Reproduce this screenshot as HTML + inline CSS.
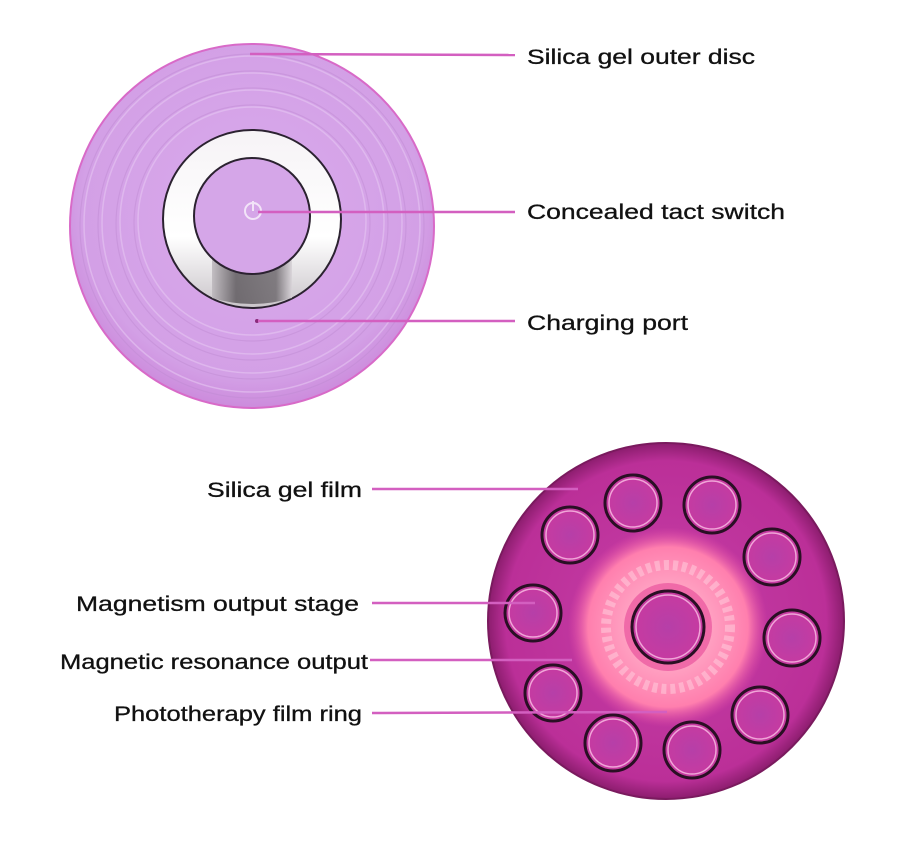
<!DOCTYPE html>
<html><head><style>body{margin:0;background:#fff}svg{display:block}</style></head>
<body>
<svg width="900" height="858" viewBox="0 0 900 858" xmlns="http://www.w3.org/2000/svg" font-family="Liberation Sans, Arial, sans-serif">
<defs>
<radialGradient id="top" cx="50%" cy="45%" r="55%">
<stop offset="0" stop-color="#d9aaec"/><stop offset="0.85" stop-color="#d3a0e6"/><stop offset="1" stop-color="#cc8bdc"/>
</radialGradient>
<radialGradient id="bot" cx="50%" cy="50%" r="50%">
<stop offset="0" stop-color="#c63fa7"/><stop offset="0.9" stop-color="#bb2f98"/><stop offset="1" stop-color="#8c1d6e"/>
</radialGradient>
<radialGradient id="glow" cx="50%" cy="50%" r="50%">
<stop offset="0.45" stop-color="#ff9ec0"/><stop offset="0.8" stop-color="#ff7fae"/><stop offset="1" stop-color="#e64ea7" stop-opacity="0"/>
</radialGradient>
<radialGradient id="dot" cx="50%" cy="50%" r="50%">
<stop offset="0" stop-color="#b63fa8"/><stop offset="1" stop-color="#c83aa0"/>
</radialGradient>
<linearGradient id="metal" x1="0" y1="0" x2="0" y2="1">
<stop offset="0" stop-color="#f6f3f6"/><stop offset="0.6" stop-color="#ffffff"/><stop offset="1" stop-color="#c9c4c9"/>
</linearGradient>
<linearGradient id="port" x1="0" y1="0" x2="1" y2="0">
<stop offset="0" stop-color="#bdb8bd"/><stop offset="0.3" stop-color="#5f5a5f"/><stop offset="0.8" stop-color="#6f6a6f"/><stop offset="1" stop-color="#d8d3d8"/>
</linearGradient>
</defs>

<!-- top disc -->
<circle cx="252" cy="226" r="182" fill="url(#top)" stroke="#d86ac8" stroke-width="2"/>
<g fill="none" stroke="#e6c6f2" stroke-width="1.5" opacity="0.6">
<circle cx="252" cy="224" r="168"/><circle cx="252" cy="223" r="150"/><circle cx="252" cy="222" r="132"/><circle cx="252" cy="221" r="114"/>
</g>
<g fill="none" stroke="#bf8ad2" stroke-width="1.2" opacity="0.45">
<circle cx="252" cy="226" r="172"/><circle cx="252" cy="225" r="154"/><circle cx="252" cy="224" r="136"/><circle cx="252" cy="223" r="118"/>
</g>
<circle cx="252" cy="219" r="89" fill="url(#metal)" stroke="#2b2230" stroke-width="2"/>
<path d="M212 250 L212 298 Q252 310 292 298 L292 250 Z" fill="url(#port)" opacity="0.85"/>
<circle cx="252" cy="216" r="58" fill="#d5a6e8" stroke="#2b2230" stroke-width="2"/>
<circle cx="253" cy="211" r="8" fill="none" stroke="#f2e4f8" stroke-width="2"/>
<line x1="253" y1="201" x2="253" y2="211" stroke="#f2e4f8" stroke-width="2"/>
<circle cx="257" cy="321" r="2" fill="#8b2a7c"/>

<!-- bottom disc -->
<circle cx="666" cy="621" r="178" fill="url(#bot)" stroke="#7a1a5e" stroke-width="2"/>
<circle cx="668" cy="627" r="100" fill="url(#glow)"/>
<circle cx="668" cy="627" r="62" fill="none" stroke="#ffc7d9" stroke-width="10" stroke-dasharray="5 4" opacity="0.6"/>
<circle cx="668" cy="627" r="44" fill="#f06aa8"/>
<g stroke="#2a0f24" stroke-width="3" fill="url(#dot)">
<circle cx="668" cy="627" r="36"/>
<circle cx="633" cy="503" r="28"/><circle cx="712" cy="505" r="28"/>
<circle cx="570" cy="535" r="28"/><circle cx="772" cy="557" r="28"/>
<circle cx="533" cy="613" r="28"/><circle cx="792" cy="638" r="28"/>
<circle cx="553" cy="693" r="28"/><circle cx="760" cy="715" r="28"/>
<circle cx="613" cy="743" r="28"/><circle cx="692" cy="750" r="28"/>
</g>
<g stroke="#f0a5d8" stroke-width="1.5" fill="none">
<circle cx="668" cy="627" r="32"/>
<circle cx="633" cy="503" r="24"/><circle cx="712" cy="505" r="24"/>
<circle cx="570" cy="535" r="24"/><circle cx="772" cy="557" r="24"/>
<circle cx="533" cy="613" r="24"/><circle cx="792" cy="638" r="24"/>
<circle cx="553" cy="693" r="24"/><circle cx="760" cy="715" r="24"/>
<circle cx="613" cy="743" r="24"/><circle cx="692" cy="750" r="24"/>
</g>

<!-- leader lines -->
<g stroke="#d35fc0" stroke-width="2.5">
<line x1="250" y1="54" x2="515" y2="55"/>
<line x1="258" y1="212" x2="515" y2="212"/>
<line x1="258" y1="321" x2="515" y2="321"/>
<line x1="372" y1="489" x2="578" y2="489"/>
<line x1="372" y1="603" x2="535" y2="603"/>
<line x1="370" y1="660" x2="572" y2="660"/>
<line x1="372" y1="713" x2="667" y2="712"/>
</g>

<g fill="#111" font-size="21" stroke="#111" stroke-width="0.3">
<text x="527" y="64" textLength="228" lengthAdjust="spacingAndGlyphs">Silica gel outer disc</text>
<text x="527" y="219" textLength="258" lengthAdjust="spacingAndGlyphs">Concealed tact switch</text>
<text x="527" y="330" textLength="161" lengthAdjust="spacingAndGlyphs">Charging port</text>
<text x="207" y="497" textLength="155" lengthAdjust="spacingAndGlyphs">Silica gel film</text>
<text x="76" y="611" textLength="283" lengthAdjust="spacingAndGlyphs">Magnetism output stage</text>
<text x="60" y="669" textLength="308" lengthAdjust="spacingAndGlyphs">Magnetic resonance output</text>
<text x="114" y="721" textLength="248" lengthAdjust="spacingAndGlyphs">Phototherapy film ring</text>
</g>
</svg>
</body></html>
